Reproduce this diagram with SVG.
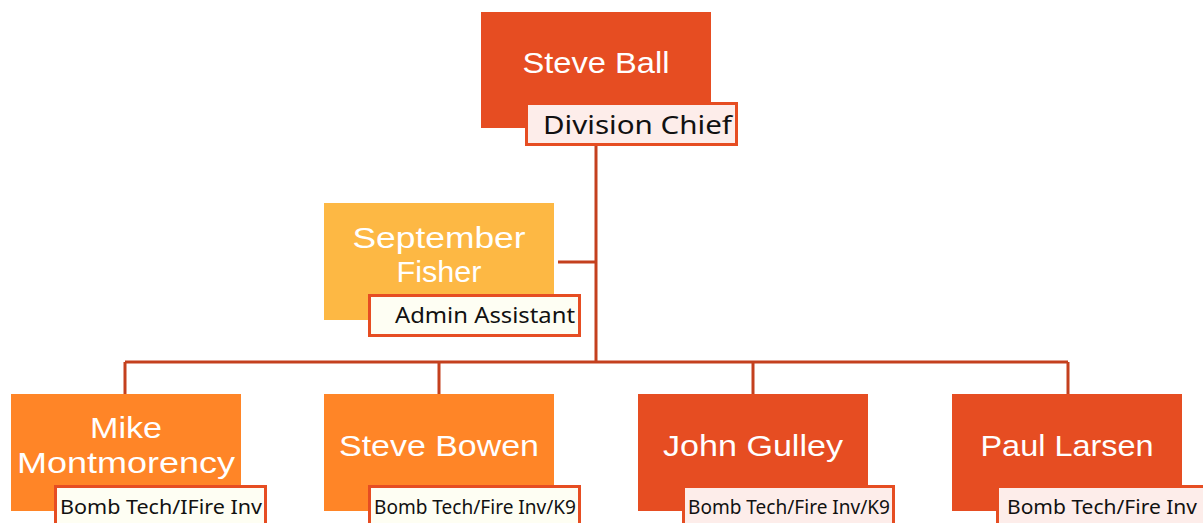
<svg xmlns="http://www.w3.org/2000/svg" width="1203" height="523" viewBox="0 0 1203 523">
<style>
.name{font-family:"Liberation Sans","Noto Sans",sans-serif;fill:#ffffff;text-anchor:middle;font-size:29px}
.lbl{font-family:"Noto Sans","Liberation Sans",sans-serif;fill:#111111;}
.lb{stroke:#E64D22;stroke-width:3}
.conn{stroke:#C4401E;stroke-width:3;fill:none}
</style>
<rect width="1203" height="523" fill="#ffffff"/>
<g id="connectors">
<path class="conn" d="M596 145 V362 M558 262 H596 M125 362 H1068 M125 362 V394 M439 362 V394 M753 362 V394 M1068 362 V394"/>
</g>
<g id="steve-ball">
<rect x="481" y="12" width="230" height="116" fill="#E64D22"/>
<text class="name" x="596" y="73" textLength="147" lengthAdjust="spacingAndGlyphs">Steve Ball</text>
<rect class="lb" x="526.5" y="103.5" width="210" height="41" fill="#FDEDEA"/>
<text class="lbl" x="543" y="134" font-size="26" textLength="189" lengthAdjust="spacingAndGlyphs">Division Chief</text>
</g>
<g id="september-fisher">
<rect x="324" y="203" width="230" height="117" fill="#FDB844"/>
<text class="name" x="439" y="248" textLength="173" lengthAdjust="spacingAndGlyphs">September</text>
<text class="name" x="439" y="282" textLength="85" lengthAdjust="spacingAndGlyphs">Fisher</text>
<rect class="lb" x="369.5" y="295.5" width="210" height="40" fill="#FEFEF3"/>
<text class="lbl" x="395" y="323" font-size="22" textLength="180" lengthAdjust="spacingAndGlyphs">Admin Assistant</text>
</g>
<g id="mike-montmorency">
<rect x="11" y="394" width="230" height="117" fill="#FF8527"/>
<text class="name" x="126" y="438" textLength="72" lengthAdjust="spacingAndGlyphs">Mike</text>
<text class="name" x="126" y="473" textLength="218" lengthAdjust="spacingAndGlyphs">Montmorency</text>
<rect class="lb" x="55.5" y="486.5" width="210" height="45" fill="#FEFEF3"/>
<text class="lbl" x="60" y="514" font-size="19" textLength="202" lengthAdjust="spacingAndGlyphs">Bomb Tech/IFire Inv</text>
</g>
<g id="steve-bowen">
<rect x="324" y="394" width="230" height="117" fill="#FF8527"/>
<text class="name" x="439" y="456" textLength="200" lengthAdjust="spacingAndGlyphs">Steve Bowen</text>
<rect class="lb" x="369.5" y="486.5" width="210" height="45" fill="#FEFEF3"/>
<text class="lbl" x="374" y="514" font-size="19" textLength="202" lengthAdjust="spacingAndGlyphs">Bomb Tech/Fire Inv/K9</text>
</g>
<g id="john-gulley">
<rect x="638" y="394" width="230" height="117" fill="#E64D22"/>
<text class="name" x="753" y="456" textLength="180" lengthAdjust="spacingAndGlyphs">John Gulley</text>
<rect class="lb" x="683.5" y="486.5" width="210" height="45" fill="#FDEDEA"/>
<text class="lbl" x="688" y="514" font-size="19" textLength="202" lengthAdjust="spacingAndGlyphs">Bomb Tech/Fire Inv/K9</text>
</g>
<g id="paul-larsen">
<rect x="952" y="394" width="230" height="117" fill="#E64D22"/>
<text class="name" x="1067" y="456" textLength="173" lengthAdjust="spacingAndGlyphs">Paul Larsen</text>
<rect class="lb" x="997.5" y="486.5" width="210" height="45" fill="#FDEDEA"/>
<text class="lbl" x="1007" y="514" font-size="19" textLength="190" lengthAdjust="spacingAndGlyphs">Bomb Tech/Fire Inv</text>
</g>
</svg>
